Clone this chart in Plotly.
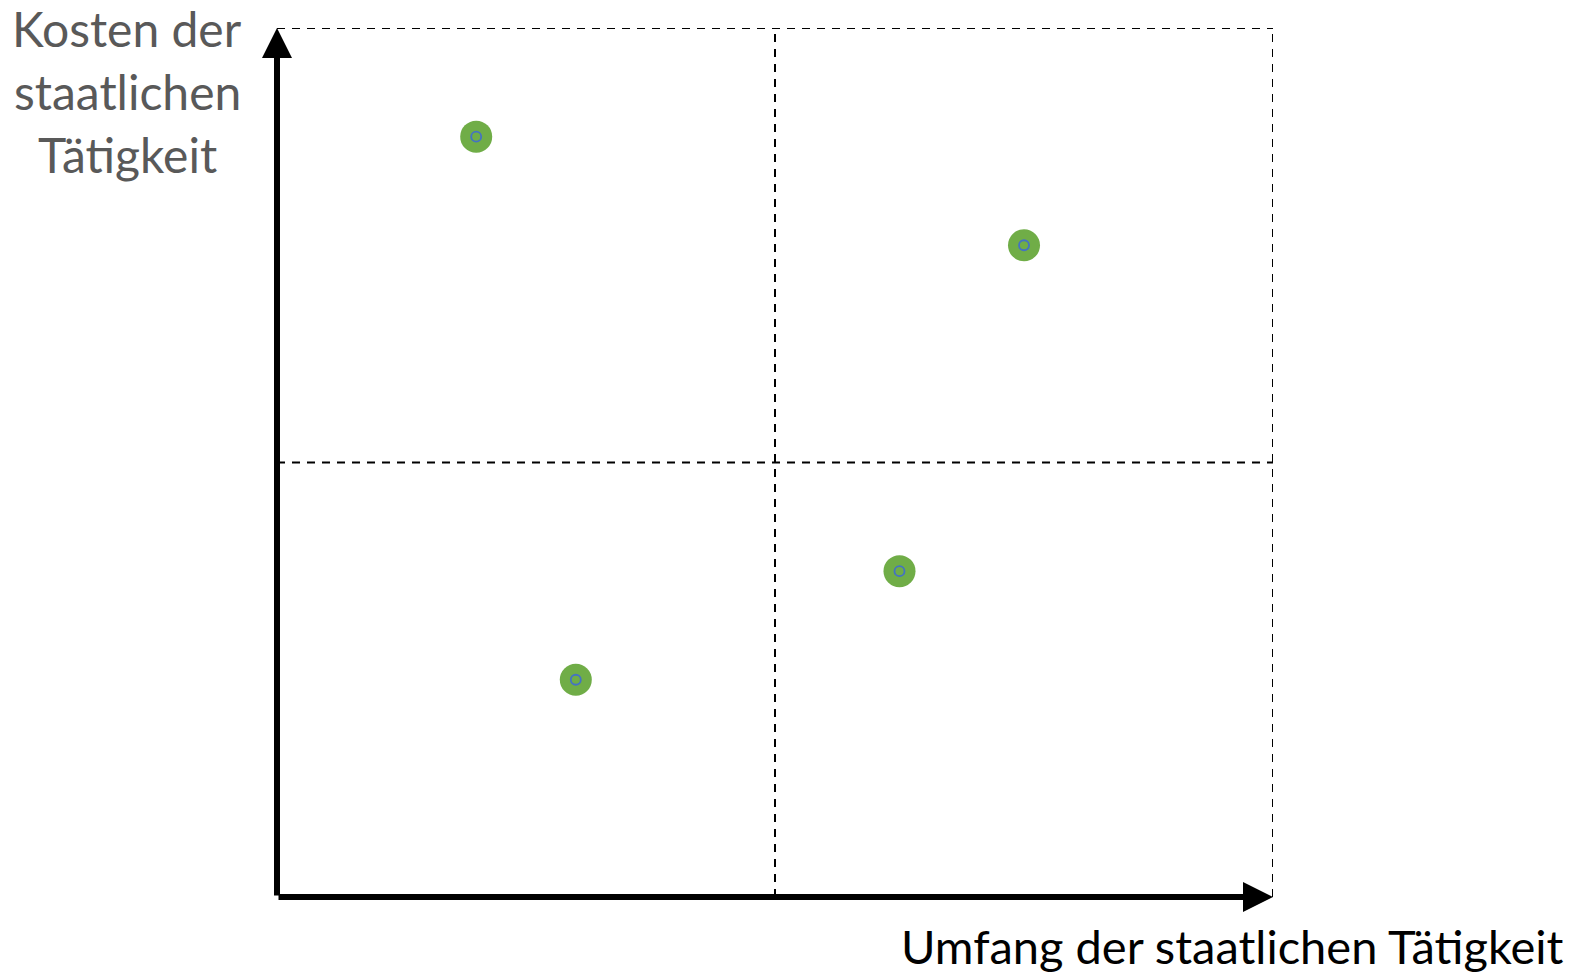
import plotly.graph_objects as go

# Data
x_vals = [2.0, 7.5, 6.25, 3.0]
y_vals = [8.75, 7.5, 3.75, 2.5]
x_label = "Umfang der staatlichen Tätigkeit"
y_label_lines = ["Kosten der", "staatlichen", "Tätigkeit"]
x_range = [0, 10]
y_range = [0, 10]
mid = 5

W, H = 1578, 978
L, R, T, B = 277, 1273, 28, 897


def px_x(px):
    return (px - L) / (R - L)


def px_y(py):
    return (B - py) / (B - T)


fig = go.Figure()
fig.add_trace(go.Scatter(x=x_vals, y=y_vals, mode="markers",
                         marker=dict(size=32, color="#70AD47", line=dict(width=0)),
                         hoverinfo="skip", showlegend=False))
fig.add_trace(go.Scatter(x=x_vals, y=y_vals, mode="markers",
                         marker=dict(size=10, symbol="circle-open", color="#4472C4",
                                     line=dict(width=1.8, color="#4472C4")),
                         hoverinfo="skip", showlegend=False))

dash = "8px,7px"
lw = 2
shapes = [
    dict(type="line", xref="x", yref="y", x0=x_range[0], x1=x_range[1], y0=y_range[1], y1=y_range[1],
         line=dict(color="black", width=lw, dash=dash)),
    dict(type="line", xref="x", yref="y", x0=x_range[1], x1=x_range[1], y0=y_range[0], y1=y_range[1],
         line=dict(color="black", width=lw, dash=dash)),
    dict(type="line", xref="x", yref="y", x0=mid, x1=mid, y0=y_range[0], y1=y_range[1],
         line=dict(color="black", width=lw, dash=dash)),
    dict(type="line", xref="x", yref="y", x0=x_range[0], x1=x_range[1], y0=mid, y1=mid,
         line=dict(color="black", width=lw, dash=dash)),
]

annotations = [
    dict(x=x_range[1], y=y_range[0], ax=x_range[0], ay=y_range[0], xref="x", yref="y",
         axref="x", ayref="y", showarrow=True, arrowhead=2, arrowsize=1.0, arrowwidth=6,
         arrowcolor="black", text=""),
    dict(x=x_range[0], y=y_range[1], ax=x_range[0], ay=y_range[0], xref="x", yref="y",
         axref="x", ayref="y", showarrow=True, arrowhead=2, arrowsize=1.0, arrowwidth=6,
         arrowcolor="black", text=""),
    dict(x=px_x(1566), y=px_y(946), xref="paper", yref="paper", xanchor="right", yanchor="middle",
         text=x_label, showarrow=False, font=dict(family="Lato", size=47, color="black")),
]
for i, line in enumerate(y_label_lines):
    annotations.append(dict(x=px_x(127), y=px_y(28 + 63.5 * i), xref="paper", yref="paper",
                            xanchor="center", yanchor="middle", text=line, showarrow=False,
                            font=dict(family="Lato", size=48, color="#595959")))

fig.update_layout(
    width=W, height=H, autosize=False,
    margin=dict(l=L, r=W - R, t=T, b=H - B, pad=0),
    paper_bgcolor="white", plot_bgcolor="white",
    xaxis=dict(range=x_range, visible=False, fixedrange=True),
    yaxis=dict(range=y_range, visible=False, fixedrange=True),
    shapes=shapes, annotations=annotations, showlegend=False,
)
css = "margin:0;padding:0;overflow:hidden;width:1578px;height:978px;"
fig.write_html(
    "out.html", config={"displayModeBar": False},
    post_script=("document.documentElement.style.cssText='" + css + "';"
                 "document.body.style.cssText='" + css + "';"),
)
